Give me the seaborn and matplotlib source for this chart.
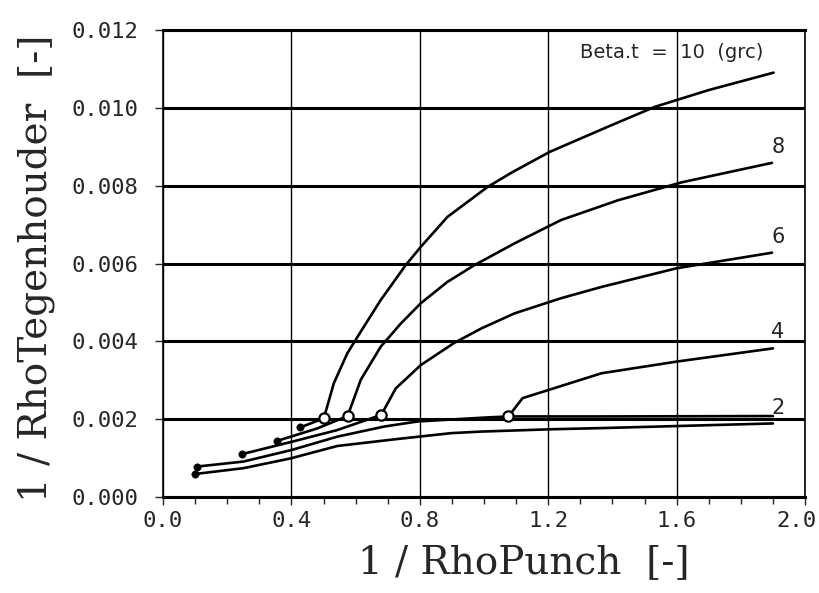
import seaborn as sns
import matplotlib.pyplot as plt
import matplotlib.ticker as mticker
import matplotlib.transforms as mtransforms
import pandas as pd

# Curves (x = 1/RhoPunch, y = 1/RhoTegenhouder)
beta10_x = [0.428, 0.501, 0.532, 0.574, 0.616, 0.678, 0.756, 0.803, 0.886, 1.011, 1.086, 1.204, 1.386, 1.532, 1.699, 1.902]
beta10_y = [0.00179, 0.00202, 0.00292, 0.00369, 0.00425, 0.00506, 0.00596, 0.00643, 0.00720, 0.00797, 0.00834, 0.00887, 0.00952, 0.01003, 0.01046, 0.01091]

beta8_x = [0.355, 0.480, 0.575, 0.616, 0.678, 0.741, 0.803, 0.886, 0.970, 1.095, 1.240, 1.418, 1.616, 1.897]
beta8_y = [0.00144, 0.00176, 0.00208, 0.00301, 0.00386, 0.00446, 0.00498, 0.00553, 0.00596, 0.00652, 0.00712, 0.00763, 0.00809, 0.00859]

beta6_x = [0.246, 0.402, 0.543, 0.680, 0.725, 0.803, 0.907, 0.991, 1.095, 1.240, 1.366, 1.600, 1.897]
beta6_y = [0.00110, 0.00142, 0.00172, 0.00211, 0.00279, 0.00339, 0.00396, 0.00433, 0.00472, 0.00511, 0.00540, 0.00588, 0.00628]

beta4_x = [1.076, 1.120, 1.197, 1.366, 1.600, 1.900]
beta4_y = [0.00207, 0.00254, 0.00274, 0.00318, 0.00348, 0.00382]

beta2_x = [0.105, 0.251, 0.402, 0.543, 0.689, 0.793, 1.000, 1.076, 1.366, 1.900]
beta2_y = [0.00078, 0.00091, 0.00121, 0.00155, 0.00181, 0.00194, 0.00204, 0.00207, 0.00207, 0.00208]

base_x = [0.100, 0.251, 0.397, 0.543, 0.720, 0.897, 0.990, 1.209, 1.366, 1.900]
base_y = [0.00059, 0.00074, 0.00099, 0.00131, 0.00148, 0.00164, 0.00168, 0.00174, 0.00177, 0.00189]

# start points (filled dots) and transition points (open circles)
start_x = [0.428, 0.355, 0.246, 0.105, 0.100]
start_y = [0.00179, 0.00144, 0.00110, 0.00078, 0.00059]
trans_x = [0.501, 0.575, 0.680, 1.076]
trans_y = [0.00202, 0.00208, 0.00211, 0.00207]

curve_labels = ['8', '6', '4', '2']
label_y = [0.00900, 0.00669, 0.00425, 0.00228]

curves = pd.concat([
    pd.DataFrame({'x': xs, 'y': ys, 'curve': name})
    for name, xs, ys in [('10', beta10_x, beta10_y), ('8', beta8_x, beta8_y),
                         ('6', beta6_x, beta6_y), ('4', beta4_x, beta4_y),
                         ('2', beta2_x, beta2_y), ('0', base_x, base_y)]
], ignore_index=True)

sns.set_style("white")
plt.rcParams['font.family'] = ['DejaVu Sans']

fig = plt.figure(figsize=(8.19, 5.93), dpi=100)
ax = fig.add_axes([0.199, 0.162, 0.784, 0.787])

sns.lineplot(data=curves, x='x', y='y', units='curve', estimator=None, sort=False,
             color='black', linewidth=1.9, ax=ax)
sns.scatterplot(x=start_x, y=start_y, color='black', s=28, edgecolor='black', zorder=5, ax=ax)
sns.scatterplot(x=trans_x, y=trans_y, facecolor='white', edgecolor='black', linewidth=1.6,
                s=55, zorder=6, ax=ax)

ax.set_xlim(0, 2.0)
ax.set_ylim(0, 0.012)
ax.xaxis.set_major_locator(mticker.MultipleLocator(0.4))
ax.xaxis.set_minor_locator(mticker.MultipleLocator(0.1))
ax.yaxis.set_major_locator(mticker.MultipleLocator(0.002))
ax.xaxis.set_major_formatter(mticker.FormatStrFormatter('%.1f'))
ax.yaxis.set_major_formatter(mticker.FormatStrFormatter('%.3f'))

ax.yaxis.grid(True, color='black', linewidth=2.2)
ax.xaxis.grid(True, color='black', linewidth=1.0)
ax.set_axisbelow(True)
for side in ['top', 'bottom']:
    ax.spines[side].set_linewidth(2.2)
for side in ['left', 'right']:
    ax.spines[side].set_linewidth(1.2)
for sp in ax.spines.values():
    sp.set_color('black')

ax.tick_params(axis='x', which='major', direction='out', length=6, width=1.0, pad=4,
               labelsize=16, bottom=True)
ax.tick_params(axis='x', which='minor', direction='out', length=5, width=1.0, bottom=True)
ax.tick_params(axis='y', direction='out', length=6, width=1.0, pad=12, labelsize=16, left=True)

fig.canvas.draw()
for lab in ax.get_xticklabels():
    lab.set_family('DejaVu Sans Mono')
    # "2.0" sits a little left of its tick in the original, inside the picture
    if lab.get_text() == '2.0':
        lab.set_transform(lab.get_transform() +
                          mtransforms.ScaledTranslation(-9 / 100, 0, fig.dpi_scale_trans))
for lab in ax.get_yticklabels():
    lab.set_family('DejaVu Sans Mono')

ax.set_xlabel('1 / RhoPunch  [-]', fontsize=28, family='DejaVu Serif')
ax.xaxis.set_label_coords(0.562, -0.10)
ax.set_ylabel('1 / RhoTegenhouder  [-]', fontsize=28, family='DejaVu Serif')
ax.yaxis.set_label_coords(-0.168, 0.49)

ax.text(1.30, 0.01143, 'Beta.t  =  10  (grc)', fontsize=14, ha='left', va='center')
for lab, yv in zip(curve_labels, label_y):
    ax.text(1.915, yv, lab, fontsize=15, ha='center', va='center')

fig.savefig('out.png', dpi=100)
